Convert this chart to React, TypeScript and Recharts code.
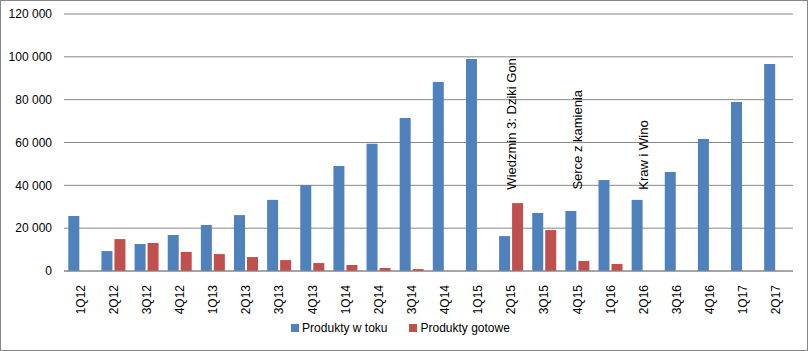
import React from 'react';
import { BarChart, Bar, XAxis, YAxis, CartesianGrid, Legend, ReferenceDot } from 'recharts';

const categories = ['1Q12','2Q12','3Q12','4Q12','1Q13','2Q13','3Q13','4Q13','1Q14','2Q14','3Q14','4Q14','1Q15','2Q15','3Q15','4Q15','1Q16','2Q16','3Q16','4Q16','1Q17','2Q17'];
const produktyWToku = [25700,9300,12600,16800,21500,26100,33200,40100,49000,59400,71400,88200,99000,16300,27100,28000,42500,33200,46200,61600,78900,96700];
const produktyGotowe = [0,14900,13100,8900,7900,6500,5100,3700,2800,1400,900,0,0,31700,19100,4700,3300,0,0,0,0,0];
const yTicks = [0,20000,40000,60000,80000,100000,120000];
const annotations = [
  { category: '2Q15', text: 'Wiedzmin 3: Dziki Gon', value: 38000 },
  { category: '4Q15', text: 'Serce z kamienia', value: 38000 },
  { category: '2Q16', text: 'Kraw i Wino', value: 38000 },
];
const seriesNames = ['Produkty w toku', 'Produkty gotowe'];
const colors = ['#4F81BD', '#C0504D'];

const data = categories.map((c, i) => ({ cat: c, a: produktyWToku[i], b: produktyGotowe[i] }));

const FONT = '"Liberation Sans", Arial, sans-serif';
const fmt = (v: number) => String(v).replace(/\B(?=(\d{3})+(?!\d))/g, ' ');

const XTick = (props: any) => {
  const { x, y, payload } = props;
  return (
    <text x={x} y={y + 6} transform={`rotate(-90 ${x} ${y + 6})`} textAnchor="end" dominantBaseline="central" fontSize={12} fontFamily={FONT} fill="#000">
      {payload.value}
    </text>
  );
};

const AnnotationShape = (text: string) => (props: any) => {
  const { cx, cy } = props;
  return (
    <text x={cx} y={cy} transform={`rotate(-90 ${cx} ${cy})`} textAnchor="start" dominantBaseline="central" fontSize={13} fontFamily={FONT} fill="#000">
      {text}
    </text>
  );
};

const LegendContent = () => (
  <div style={{ display: 'flex', justifyContent: 'center', alignItems: 'center', height: 20, fontFamily: FONT, fontSize: 12, color: '#000' }}>
    {seriesNames.map((n, i) => (
      <div key={n} style={{ display: 'flex', alignItems: 'center', marginRight: i === 0 ? 22 : 0 }}>
        <span style={{ display: 'inline-block', width: 8, height: 8, background: colors[i], marginRight: 3 }} />
        <span>{n}</span>
      </div>
    ))}
  </div>
);

export default function App() {
  return (
    <div style={{ position: 'absolute', left: 0, top: 0, width: 808, height: 351, background: '#fff' }}>
      <BarChart width={808} height={351} data={data} margin={{ top: 14, right: 15, left: 8, bottom: 13 }} barCategoryGap="13%" barGap={2}>
        <CartesianGrid vertical={false} stroke="#868686" strokeWidth={1} />
        <XAxis dataKey="cat" height={47} interval={0} tick={<XTick />} tickLine={false} axisLine={{ stroke: '#868686' }} />
        <YAxis width={56} domain={[0, 120000]} ticks={yTicks} tickFormatter={fmt} tickLine={false} axisLine={false} tickSize={0} tickMargin={12} tick={{ fontSize: 12, fontFamily: FONT, fill: '#000' }} />
        <Legend verticalAlign="bottom" height={20} content={<LegendContent />} />
        <Bar dataKey="a" name={seriesNames[0]} fill={colors[0]} isAnimationActive={false} />
        <Bar dataKey="b" name={seriesNames[1]} fill={colors[1]} isAnimationActive={false} />
        {annotations.map((a) => (
          <ReferenceDot key={a.category} x={a.category} y={a.value} r={0} shape={AnnotationShape(a.text)} ifOverflow="visible" />
        ))}
      </BarChart>
      <div style={{ position: 'absolute', left: 0, top: 0, width: 808, height: 351, boxSizing: 'border-box', border: '1px solid #868686', pointerEvents: 'none' }} />
    </div>
  );
}
